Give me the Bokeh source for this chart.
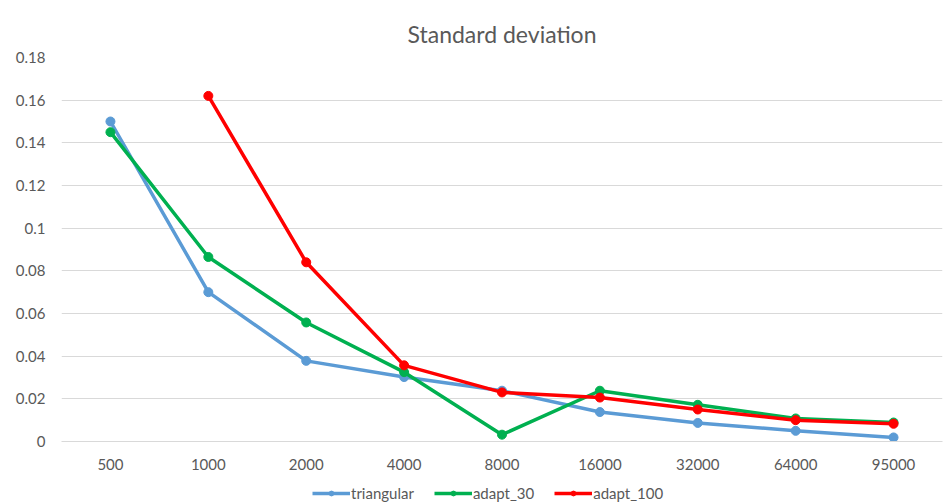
from bokeh.plotting import figure
from bokeh.layouts import column
from bokeh.models import FactorRange, Range1d, Legend, LegendItem
from bokeh.embed import file_html
from bokeh.resources import INLINE

categories = ["500", "1000", "2000", "4000", "8000", "16000", "32000", "64000", "95000"]
triangular = [0.150, 0.070, 0.0378, 0.0302, 0.0238, 0.0138, 0.0087, 0.0050, 0.0019]
adapt_30 = [0.145, 0.0865, 0.0558, 0.0325, 0.0032, 0.0238, 0.0172, 0.0108, 0.0089]
adapt_100_cats = categories[1:]
adapt_100 = [0.162, 0.0840, 0.0357, 0.0230, 0.0206, 0.0150, 0.0100, 0.0083]
y_ticks = [0, 0.02, 0.04, 0.06, 0.08, 0.1, 0.12, 0.14, 0.16, 0.18]

FONT = "Lato"
GREY = "#595959"

p = figure(frame_width=881, frame_height=384, x_range=FactorRange(*categories),
           y_range=Range1d(0, 0.18), output_backend="svg", toolbar_location=None,
           min_border_left=61, min_border_right=2, min_border_top=57, min_border_bottom=30)

p.title.text = "Standard deviation"
p.title.align = "center"
p.title.text_font = FONT
p.title.text_font_size = "23px"
p.title.text_font_style = "normal"
p.title.text_color = GREY
p.title.offset = 0
p.title.standoff = 20

p.outline_line_color = None
p.xgrid.grid_line_color = None
p.ygrid.grid_line_color = "#D9D9D9"
p.ygrid.grid_line_width = 1

p.yaxis.ticker = y_ticks
p.yaxis.major_label_overrides = {0: "0", 0.1: "0.1"}
for ax in (p.xaxis, p.yaxis):
    ax.axis_line_color = None
    ax.major_tick_line_color = None
    ax.minor_tick_line_color = None
    ax.major_label_text_font = FONT
    ax.major_label_text_font_size = "15px"
    ax.major_label_text_color = GREY
p.xaxis.axis_line_color = "#D9D9D9"
p.yaxis.major_label_standoff = 10
p.xaxis.major_label_standoff = 11

series = [
    ("triangular", categories, triangular, "#5B9BD5"),
    ("adapt_30", categories, adapt_30, "#00B050"),
    ("adapt_100", adapt_100_cats, adapt_100, "#FF0000"),
]

# legend strip below the chart (its own glyphs sit outside its visible range)
lf = figure(width=944, height=31, output_backend="svg", toolbar_location=None,
            x_range=Range1d(0, 1), y_range=Range1d(0, 1),
            min_border=0, outline_line_color=None)
lf.axis.visible = False
lf.grid.visible = False

items = []
for name, xs, ys, col in series:
    p.line(xs, ys, line_color=col, line_width=3.5, line_join="round", line_cap="round")
    p.scatter(xs, ys, size=9, fill_color=col, line_color=col)
    l = lf.line([5, 6], [5, 6], line_color=col, line_width=3.5)
    s = lf.scatter([5], [5], size=12, fill_color=col, line_color=col)
    items.append(LegendItem(label=name, renderers=[l, s]))

legend = Legend(items=items, orientation="horizontal", location=(251, 1),
                border_line_color=None, background_fill_alpha=0,
                label_text_font=FONT, label_text_font_size="15px", label_text_color=GREY,
                glyph_width=38, glyph_height=12, label_standoff=1, spacing=20,
                padding=0, margin=0, label_height=16)
lf.add_layout(legend, "center")

open("out.html", "w").write(file_html(column(p, lf, spacing=0), INLINE))
